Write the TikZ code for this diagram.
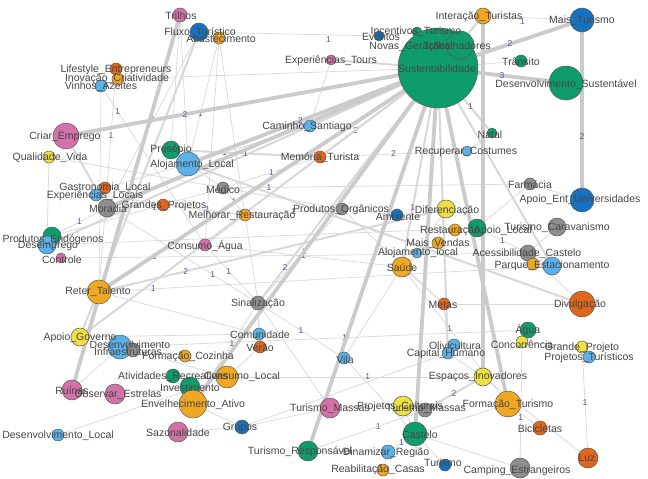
\documentclass[tikz,border=0pt]{standalone}
\usepackage{fontspec}
\setmainfont{Liberation Sans}
\definecolor{cgreen}{HTML}{0E9C6C}
\definecolor{cdblue}{HTML}{1672BE}
\definecolor{clblue}{HTML}{5AB2EA}
\definecolor{corange}{HTML}{E0661C}
\definecolor{cgold}{HTML}{F0A822}
\definecolor{cyellow}{HTML}{EEE040}
\definecolor{cpink}{HTML}{D272A8}
\definecolor{cgray}{HTML}{8E8E8E}
\definecolor{cedge}{HTML}{D8D8D8}
\definecolor{cnum}{HTML}{55559E}
\tikzset{
 vert/.style={circle, draw=black!65, line width=0.5pt, inner sep=0pt},
 lbl/.style={font=\fontsize{10.5}{11}\selectfont, text=black!72, inner sep=0pt},
 ethin/.style={draw=cedge, line width=0.7pt},
 emid/.style={draw=cedge, line width=2pt},
 ethick/.style={draw=cedge!94!black, line width=3.8pt},
 num/.style={font=\fontsize{8.5}{9}\selectfont, text=cnum, inner sep=0pt}
}
\newcommand\vtx[3]{\node[vert, fill=#2, minimum size=#3pt] (#1c) at (#1) {};}
\newcommand\lab[4]{\node[lbl] (#1l) at (#2,#3) {#4};}
\begin{document}
\begin{tikzpicture}[x=1pt,y=-1pt]
\useasboundingbox[fill=white] (0,0) rectangle (648,479);
% coordinates
\coordinate (sust) at (438,68);
\coordinate (trab) at (460,45);
\coordinate (novas) at (420,46);
\coordinate (incent) at (417,32);
\coordinate (eventos) at (379,36);
\coordinate (interac) at (483,16);
\coordinate (maist) at (582,20);
\coordinate (transito) at (521,61);
\coordinate (dsust) at (566,83);
\coordinate (natal) at (492,133);
\coordinate (recup) at (467,151);
\coordinate (exptours) at (331,60);
\coordinate (trilhos) at (180,15);
\coordinate (fluxo) at (199,32);
\coordinate (abast) at (219,38);
\coordinate (lifestyle) at (116,69);
\coordinate (inov) at (118,79);
\coordinate (vinhos) at (101,86);
\coordinate (criar) at (66,136);
\coordinate (qual) at (49,157);
\coordinate (presepio) at (171,150);
\coordinate (aloj) at (188,164);
\coordinate (caminho) at (310,126);
\coordinate (memoria) at (320,157);
\coordinate (gastro) at (105,188);
\coordinate (explocais) at (96,195);
\coordinate (moradia) at (107,208);
\coordinate (grandes) at (163,205);
\coordinate (medico) at (223,188);
\coordinate (melhorar) at (245,215);
\coordinate (consumo) at (205,245);
\coordinate (prodend) at (52,236);
\coordinate (desemp) at (47,245);
\coordinate (controle) at (61,258);
\coordinate (reter) at (99,292);
\coordinate (prodorg) at (342,209);
\coordinate (ambiente) at (397,215);
\coordinate (difer) at (446,209);
\coordinate (restaur) at (455,230);
\coordinate (apoiolocal) at (477,228);
\coordinate (maisvendas) at (438,243);
\coordinate (alojl) at (417,253);
\coordinate (saude) at (402,267);
\coordinate (metas) at (444,304);
\coordinate (farmacia) at (530,184);
\coordinate (apoiouni) at (582,200);
\coordinate (carav) at (557,227);
\coordinate (acess) at (528,253);
\coordinate (bar) at (533,264);
\coordinate (parque) at (552,266);
\coordinate (divulg) at (582,304);
\coordinate (sinal) at (258,303);
\coordinate (comun) at (259,334);
\coordinate (verao) at (260,347);
\coordinate (apoiogov) at (80,337);
\coordinate (desenv) at (120,347);
\coordinate (infra) at (133,350);
\coordinate (formcoz) at (185,356);
\coordinate (ativ) at (173,376);
\coordinate (consloc) at (227,377);
\coordinate (invest) at (190,387);
\coordinate (envelh) at (193,404);
\coordinate (ruinas) at (72,390);
\coordinate (observ) at (115,394);
\coordinate (desloc) at (58,435);
\coordinate (sazon) at (178,432);
\coordinate (grupos) at (242,427);
\coordinate (tmassas) at (330,408);
\coordinate (projcult) at (403,406);
\coordinate (massas) at (425,410);
\coordinate (castelo) at (415,434);
\coordinate (tresp) at (308,451);
\coordinate (dinam) at (388,452);
\coordinate (reab) at (383,470);
\coordinate (turismo) at (445,465);
\coordinate (camping) at (520,468);
\coordinate (luz) at (588,458);
\coordinate (bicic) at (540,428);
\coordinate (formtur) at (508,404);
\coordinate (espacos) at (483,377);
\coordinate (olivi) at (454,345);
\coordinate (capital) at (448,353);
\coordinate (agua) at (528,330);
\coordinate (concorr) at (522,342);
\coordinate (grandep) at (582,347);
\coordinate (projtur) at (589,357);
\coordinate (vila) at (344,358);
% thin edges
\draw[ethin] (fluxo) -- node[num,pos=0.72,yshift=-5pt]{1} (eventos);
\draw[ethin] (fluxo) -- (abast);
\draw[ethin] (abast) -- (sinal);
\draw[ethin] (abast) -- node[num,pos=0.6]{1} (aloj);
\draw[ethin] (trilhos) -- (presepio);
\draw[ethin] (trilhos) -- (aloj);
\draw[ethin] (fluxo) -- node[num,pos=0.5]{1} (moradia);
\draw[ethin] (abast) -- (consumo);
\draw[ethin] (lifestyle) -- node[num,pos=0.3]{1} (reter);
\draw[ethin] (inov) -- (sust);
\draw[ethin] (vinhos) -- node[num,pos=0.16]{1} (consumo);
\draw[ethin] (vinhos) -- (reter);
\draw[ethin] (qual) -- (prodorg);
\draw[ethin] (qual) -- (desemp);
\draw[ethin] (gastro) -- (aloj);
\draw[ethin] (explocais) -- node[num,pos=0.75]{1} (melhorar);
\draw[ethin] (moradia) -- node[num,pos=0.5]{1} (prodend);
\draw[ethin] (moradia) -- (grandes);
\draw[ethin] (moradia) -- node[num,pos=0.7]{1} (sinal);
\draw[ethin] (controle) -- node[num,pos=0.2]{1} (acess);
\draw[ethin] (desemp) -- node[num,pos=0.78]{1} (apoiolocal);
\draw[ethin] (prodend) -- node[num,pos=0.6]{1} (medico);
\draw[ethin] (reter) -- node[num,pos=0.12]{1} (parque);
\draw[ethin] (reter) -- (comun);
\draw[ethin] (apoiogov) -- (comun);
\draw[ethin] (desenv) -- (formcoz);
\draw[ethin] (desenv) -- node[num,pos=0.55]{1} (agua);
\draw[ethin] (infra) -- (consloc);
\draw[ethin] (ativ) -- (consloc);
\draw[ethin] (consloc) -- node[num,pos=0.55]{1} (espacos);
\draw[ethin] (consloc) -- (verao);
\draw[ethin] (desloc) -- (consloc);
\draw[ethin] (observ) -- (invest);
\draw[ethin] (ruinas) -- (desenv);
\draw[ethin] (sazon) -- (grupos);
\draw[ethin] (grupos) -- (capital);
\draw[ethin] (grupos) -- (tmassas);
\draw[ethin] (tmassas) -- (projcult);
\draw[ethin] (tmassas) -- (sinal);
\draw[ethin] (projcult) -- (castelo);
\draw[ethin] (castelo) -- (camping);
\draw[ethin] (castelo) -- (turismo);
\draw[ethin] (castelo) -- node[num,pos=0.5]{1} (dinam);
\draw[ethin] (dinam) -- (reab);
\draw[ethin] (tresp) -- (dinam);
\draw[ethin] (camping) -- node[num,pos=0.4]{1} (concorr);
\draw[ethin] (luz) -- node[num,pos=0.5]{1} (grandep);
\draw[ethin] (espacos) -- (luz);
\draw[ethin] (bicic) -- (formtur);
\draw[ethin] (difer) -- (alojl);
\draw[ethin] (difer) -- (maisvendas);
\draw[ethin] (ambiente) -- (difer);
\draw[ethin] (prodorg) -- (ambiente);
\draw[ethin] (prodorg) -- node[num,pos=0.45]{1} (sinal);
\draw[ethin] (apoiolocal) -- node[num,pos=0.5]{1} (acess);
\draw[ethin] (apoiolocal) -- (farmacia);
\draw[ethin] (farmacia) -- node[num,pos=0.85]{1} (medico);
\draw[ethin] (carav) -- (acess);
\draw[ethin] (acess) -- (parque);
\draw[ethin] (bar) -- (acess);
\draw[ethin] (divulg) -- (acess);
\draw[ethin] (metas) -- (saude);
\draw[ethin] (metas) -- (capital);
\draw[ethin] (olivi) -- (capital);
\draw[ethin] (capital) -- (espacos);
\draw[ethin] (agua) -- (concorr);
\draw[ethin] (concorr) -- (grandep);
\draw[ethin] (projtur) -- (grandep);
\draw[ethin] (vila) -- node[num,pos=0.5]{1} (sinal);
\draw[ethin] (vila) -- (saude);
\draw[ethin] (vila) -- (castelo);
\draw[ethin] (verao) -- (comun);
\draw[ethin] (comun) -- (sinal);
\draw[ethin] (medico) -- node[num,pos=0.5]{1} (melhorar);
\draw[ethin] (medico) -- (aloj);
\draw[ethin] (grandes) -- (melhorar);
\draw[ethin] (consumo) -- (melhorar);
\draw[ethin] (consumo) -- node[num,pos=0.45]{1} (sinal);
\draw[ethin] (recup) -- (natal);
\draw[ethin] (transito) -- node[num,pos=0.6]{1} (sust);
\draw[ethin] (exptours) -- (caminho);
\draw[ethin] (trab) -- (interac);
\draw[ethin] (incent) -- (eventos);
\draw[ethin] (apoiouni) -- (farmacia);
\draw[ethin] (alojl) -- (saude);
\draw[ethin] (maisvendas) -- (saude);
\draw[ethin] (saude) -- node[num,pos=0.45]{1} (formtur);
\draw[ethin] (metas) -- (divulg);
\draw[ethin] (sinal) -- node[num,pos=0.4]{1} (envelh);
\draw[ethin] (sinal) -- (verao);
\draw[ethin] (caminho) -- node[num,pos=0.7]{1} (aloj);
\draw[ethin] (memoria) -- node[num,pos=0.5]{1} (medico);
\draw[ethin] (melhorar) -- node[num,pos=0.5]{1} (prodorg);
\draw[ethin] (grupos) -- (envelh);
\draw[ethin] (tresp) -- node[num,pos=0.6]{1} (massas);
\draw[ethin] (formtur) -- (castelo);
\draw[ethin] (interac) -- node[num,pos=0.4,yshift=-4pt]{1} (maist);
\draw[ethin] (recup) -- node[num,pos=0.5]{2} (memoria);
\draw[ethin] (consumo) -- node[num,pos=0.5]{1} (saude);
\draw[ethin] (prodorg) -- (metas);
% medium edges
\draw[emid] (sust) -- node[num,pos=0.7]{2} (memoria);
\draw[emid] (sust) -- (caminho);
\draw[emid] (sust) -- (exptours);
\draw[emid] (sust) -- node[num,pos=0.85]{2} (sinal);
\draw[emid] (sust) -- (parque);
\draw[emid] (sust) -- node[num,pos=0.7]{1} (saude);
\draw[emid] (sust) -- node[num,pos=0.6]{1} (natal);
\draw[emid] (sust) -- (capital);
\draw[emid] (sust) -- (desemp);
\draw[emid] (aloj) -- (divulg);
\draw[emid] (reter) -- node[num,pos=0.25]{2} (difer);
\draw[emid] (fluxo) -- (apoiogov);
\draw[emid] (presepio) -- node[num,pos=0.5]{1} (memoria);
\draw[emid] (sust) -- (interac);
\draw[emid] (criar) -- (moradia);
\draw[emid] (sust) -- (apoiogov);
\draw[emid] (massas) -- node[num,pos=0.5]{2} (espacos);
% thick edges
\draw[ethick] (sust) -- node[num,pos=0.68]{2} (criar);
\draw[ethick] (sust) -- node[num,pos=0.5]{3} (dsust);
\draw[ethick] (sust) -- node[num,pos=0.5]{2} (maist);
\draw[ethick] (maist) -- node[num,pos=0.65]{2} (apoiouni);
\draw[ethick] (trilhos) -- (ruinas);
\draw[ethick] (sust) -- node[num,pos=0.55]{2} (aloj);
\draw[ethick] (sust) -- (moradia);
\draw[ethick] (sust) -- (reter);
\draw[ethick] (sust) -- (envelh);
\draw[ethick] (sust) -- (tresp);
\draw[ethick] (sust) -- (formtur);
\draw[ethick] (interac) -- (espacos);
\draw[ethick] (sust) -- (castelo);
% vertices
\vtx{novas}{cgreen}{10}
\vtx{incent}{cgreen}{10}
\vtx{eventos}{cdblue}{10}
\vtx{sust}{cgreen}{80}
\vtx{trab}{cgreen}{28}
\vtx{interac}{cgold}{16}
\vtx{maist}{cdblue}{24}
\vtx{transito}{cgreen}{12}
\vtx{dsust}{cgreen}{34}
\vtx{natal}{cgreen}{10}
\vtx{recup}{clblue}{10}
\vtx{exptours}{cpink}{10}
\vtx{trilhos}{cpink}{14}
\vtx{fluxo}{cdblue}{18}
\vtx{abast}{cgold}{12}
\vtx{lifestyle}{corange}{12}
\vtx{inov}{cgold}{12}
\vtx{vinhos}{clblue}{12}
\vtx{criar}{cpink}{26}
\vtx{qual}{cyellow}{12}
\vtx{presepio}{cgreen}{18}
\vtx{aloj}{clblue}{24}
\vtx{caminho}{clblue}{12}
\vtx{memoria}{corange}{12}
\vtx{gastro}{corange}{12}
\vtx{explocais}{clblue}{12}
\vtx{moradia}{cgray}{18}
\vtx{grandes}{corange}{12}
\vtx{medico}{cgray}{12}
\vtx{melhorar}{cgold}{12}
\vtx{consumo}{cpink}{12}
\vtx{prodend}{cgreen}{18}
\vtx{desemp}{clblue}{18}
\vtx{controle}{cpink}{10}
\vtx{reter}{cgold}{24}
\vtx{prodorg}{cgray}{12}
\vtx{ambiente}{cdblue}{12}
\vtx{difer}{cyellow}{18}
\vtx{restaur}{cgold}{12}
\vtx{apoiolocal}{cgreen}{18}
\vtx{maisvendas}{cgold}{12}
\vtx{alojl}{clblue}{10}
\vtx{saude}{cgold}{20}
\vtx{metas}{corange}{12}
\vtx{farmacia}{cgray}{12}
\vtx{apoiouni}{cdblue}{24}
\vtx{carav}{cgray}{18}
\vtx{acess}{cgray}{16}
\vtx{bar}{cgold}{12}
\vtx{parque}{clblue}{18}
\vtx{divulg}{corange}{26}
\vtx{sinal}{cgray}{14}
\vtx{comun}{clblue}{12}
\vtx{verao}{corange}{12}
\vtx{apoiogov}{cyellow}{18}
\vtx{desenv}{clblue}{24}
\vtx{infra}{cgray}{14}
\vtx{formcoz}{cgold}{12}
\vtx{ativ}{cgreen}{14}
\vtx{consloc}{cgold}{22}
\vtx{invest}{cgreen}{20}
\vtx{envelh}{cgold}{28}
\vtx{ruinas}{cpink}{20}
\vtx{observ}{cpink}{20}
\vtx{desloc}{clblue}{12}
\vtx{sazon}{cpink}{20}
\vtx{grupos}{cdblue}{14}
\vtx{tmassas}{cpink}{20}
\vtx{projcult}{cyellow}{20}
\vtx{massas}{cgray}{14}
\vtx{castelo}{cgreen}{24}
\vtx{tresp}{cgreen}{20}
\vtx{dinam}{clblue}{14}
\vtx{reab}{cgold}{12}
\vtx{turismo}{cdblue}{12}
\vtx{camping}{cgray}{20}
\vtx{luz}{corange}{20}
\vtx{bicic}{corange}{14}
\vtx{formtur}{cgold}{26}
\vtx{espacos}{cyellow}{18}
\vtx{olivi}{clblue}{12}
\vtx{capital}{clblue}{12}
\vtx{agua}{cgreen}{16}
\vtx{concorr}{cyellow}{12}
\vtx{grandep}{cyellow}{12}
\vtx{projtur}{clblue}{12}
\vtx{vila}{clblue}{12}
% labels
\lab{sust}{437}{69}{Sustentabilidade}
\lab{trab}{457}{46}{Trabalhadores}
\lab{novas}{410}{47}{Novas\_Gerações}
\lab{incent}{416}{32}{Incentivos\_Turismo}
\lab{eventos}{381}{37}{Eventos}
\lab{interac}{479}{17}{Interação\_Turistas}
\lab{maist}{582}{21}{Mais\_Turismo}
\lab{transito}{521}{62}{Trânsito}
\lab{dsust}{566}{85}{Desenvolvimento\_Sustentável}
\lab{natal}{490}{135}{Natal}
\lab{recup}{466}{152}{Recuperar\_Costumes}
\lab{exptours}{331}{61}{Experiências\_Tours}
\lab{trilhos}{181}{16}{Trilhos}
\lab{fluxo}{200}{33}{Fluxo\_Turístico}
\lab{abast}{221}{39}{Abastecimento}
\lab{lifestyle}{116}{70}{Lifestyle\_Entrepreneurs}
\lab{inov}{117}{79}{Inovação\_Criatividade}
\lab{vinhos}{101}{87}{Vinhos\_Azeites}
\lab{criar}{65}{137}{Criar\_Emprego}
\lab{qual}{50}{158}{Qualidade\_Vida}
\lab{presepio}{171}{150}{Presépio}
\lab{aloj}{192}{165}{Alojamento\_Local}
\lab{caminho}{307}{127}{Caminho\_Santiago}
\lab{memoria}{320}{158}{Memória\_Turista}
\lab{gastro}{105}{188}{Gastronomia\_Local}
\lab{explocais}{95}{196}{Experiências\_Locais}
\lab{moradia}{108}{209}{Moradia}
\lab{grandes}{164}{206}{Grandes\_Projetos}
\lab{medico}{223}{190}{Médico}
\lab{melhorar}{242}{216}{Melhorar\_Restauração}
\lab{consumo}{205}{246}{Consumo\_Água}
\lab{prodend}{53}{240}{Produtos\_Endógenos}
\lab{desemp}{48}{246}{Desemprego}
\lab{controle}{62}{260}{Controle}
\lab{reter}{98}{292}{Reter\_Talento}
\lab{prodorg}{341}{210}{Produtos\_Orgânicos}
\lab{ambiente}{398}{217}{Ambiente}
\lab{difer}{447}{211}{Diferenciação}
\lab{restaur}{450}{231}{Restauração}
\lab{apoiolocal}{503}{231}{Apoio\_Local}
\lab{maisvendas}{438}{244}{Mais\_Vendas}
\lab{alojl}{418}{253}{Alojamento\_local}
\lab{saude}{402}{268}{Saúde}
\lab{metas}{443}{305}{Metas}
\lab{farmacia}{530}{185}{Farmácia}
\lab{apoiouni}{580}{200}{Apoio\_Ent\_Universidades}
\lab{carav}{557}{228}{Turismo\_Caravanismo}
\lab{acess}{527}{254}{Acessibilidade\_Castelo}
\lab{parque}{552}{266}{Parque\_Estacionamento}
\lab{divulg}{580}{305}{Divulgação}
\lab{sinal}{258}{304}{Sinalização}
\lab{comun}{260}{335}{Comunidade}
\lab{verao}{260}{348}{Verão}
\lab{apoiogov}{80}{338}{Apoio\_Governo}
\lab{desenv}{130}{345}{Desenvolvimento}
\lab{infra}{128}{352}{Infraestruturas}
\lab{formcoz}{188}{357}{Formação\_Cozinha}
\lab{ativ}{173}{377}{Atividades\_Recreativas}
\lab{consloc}{242}{377}{Consumo\_Local}
\lab{invest}{190}{388}{Investimento}
\lab{envelh}{193}{405}{Envelhecimento\_Ativo}
\lab{ruinas}{72}{391}{Ruínas}
\lab{observ}{118}{395}{Observar\_Estrelas}
\lab{desloc}{58}{436}{Desenvolvimento\_Local}
\lab{sazon}{178}{433}{Sazonalidade}
\lab{grupos}{240}{428}{Grupos}
\lab{tmassas}{330}{409}{Turismo\_Massas}
\lab{projcult}{400}{407}{Projetos\_Culturais}
\lab{massas}{426}{409}{Turismo\_Massas}
\lab{castelo}{420}{435}{Castelo}
\lab{tresp}{300}{452}{Turismo\_Responsável}
\lab{dinam}{386}{453}{Dinamizar\_Região}
\lab{reab}{378}{470}{Reabilitação\_Casas}
\lab{turismo}{443}{463}{Turismo}
\lab{camping}{517}{471}{Camping\_Estrangeiros}
\lab{luz}{587}{458}{Luz}
\lab{bicic}{540}{429}{Bicicletas}
\lab{formtur}{508}{405}{Formação\_Turismo}
\lab{espacos}{478}{377}{Espaços\_Inovadores}
\lab{olivi}{455}{346}{Olivicultura}
\lab{capital}{446}{354}{Capital\_Humano}
\lab{agua}{528}{330}{Água}
\lab{concorr}{522}{345}{Concorrência}
\lab{grandep}{582}{348}{Grande\_Projeto}
\lab{projtur}{589}{358}{Projetos\_Turísticos}
\lab{vila}{345}{360}{Vila}
\end{tikzpicture}
\end{document}
